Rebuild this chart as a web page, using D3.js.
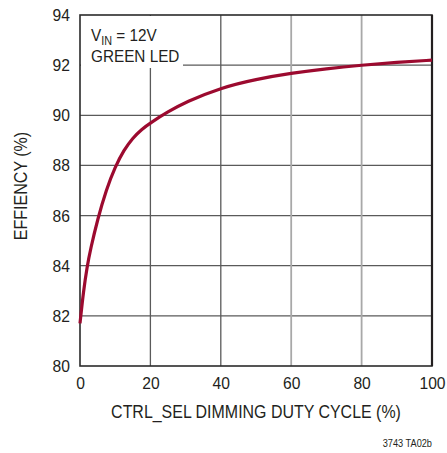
<!DOCTYPE html>
<html>
<head>
<meta charset="utf-8">
<script src="https://cdn.jsdelivr.net/npm/d3@7"></script>
<style>
  html, body { margin: 0; padding: 0; background: #fff; }
  svg text { font-family: "Liberation Sans Narrow", "Arial Narrow", "Liberation Sans", sans-serif; fill: #231f20; }
</style>
</head>
<body>
<svg id="chart" width="447" height="453"></svg>
<script>
// Efficiency vs. CTRL_SEL dimming duty cycle
const dutyCycle  = [0, 1, 2, 3, 5, 7.5, 10, 12.5, 15, 17.5, 20, 25, 30, 40, 50, 60, 70, 80, 90, 100];
const efficiency = [81.7, 83.0, 83.95, 84.67, 85.85, 87.05, 87.95, 88.62, 89.1, 89.44, 89.7, 90.14, 90.53, 91.1, 91.44, 91.68, 91.86, 92.0, 92.11, 92.2];
const xTicks = [0, 20, 40, 60, 80, 100];
const yTicks = [80, 82, 84, 86, 88, 90, 92, 94];
const lightGridX = [60, 80];

const svg = d3.select("#chart");
const plotL = 80, plotR = 432, plotT = 15, plotB = 366;

const x = d3.scaleLinear().domain([0, 100]).range([plotL, plotR]);
const y = d3.scaleLinear().domain([80, 94]).range([plotB, plotT]);

// squeeze a text horizontally to imitate a condensed face
function condense(sel, k) {
  sel.each(function () {
    const w = this.getComputedTextLength();
    d3.select(this).attr("textLength", w * k).attr("lengthAdjust", "spacingAndGlyphs");
  });
}

// grid
const grid = svg.append("g");
grid.selectAll("line.h").data(yTicks.slice(1, -1)).join("line")
  .attr("x1", plotL).attr("x2", plotR)
  .attr("y1", d => y(d)).attr("y2", d => y(d))
  .attr("stroke", "#5a5a5a").attr("stroke-width", 1.3);
grid.selectAll("line.v").data(xTicks.slice(1, -1)).join("line")
  .attr("y1", plotT).attr("y2", plotB)
  .attr("x1", d => x(d)).attr("x2", d => x(d))
  .attr("stroke", d => lightGridX.includes(d) ? "#a8a8a8" : "#5a5a5a")
  .attr("stroke-width", d => lightGridX.includes(d) ? 1.8 : 1.3);

// legend backdrop
svg.append("rect").attr("x", plotL + 1).attr("y", plotT + 1)
  .attr("width", 102).attr("height", 52).attr("fill", "#fff");

// frame
svg.append("rect").attr("x", plotL).attr("y", plotT)
  .attr("width", plotR - plotL).attr("height", plotB - plotT)
  .attr("fill", "none").attr("stroke", "#2b2b2b").attr("stroke-width", 1.6);
svg.append("line").attr("x1", plotR).attr("x2", plotR).attr("y1", plotT).attr("y2", plotB)
  .attr("stroke", "#231f20").attr("stroke-width", 2.2);

// curve
const line = d3.line().x((d, i) => x(dutyCycle[i])).y(d => y(d)).curve(d3.curveBasis);
svg.append("path").datum(efficiency)
  .attr("d", line).attr("fill", "none")
  .attr("stroke", "#9c0a2f").attr("stroke-width", 3.2)
  .attr("stroke-linecap", "butt");

// axes
const xAxis = d3.axisBottom(x).tickValues(xTicks).tickSize(0).tickPadding(11).tickFormat(d3.format("d"));
const gx = svg.append("g").attr("transform", `translate(0,${plotB})`).call(xAxis);
gx.select(".domain").remove();
gx.selectAll("text").attr("font-size", 17).attr("dy", "0.71em").call(condense, 0.92);

const yAxis = d3.axisLeft(y).tickValues(yTicks).tickSize(0).tickPadding(10).tickFormat(d3.format("d"));
const gy = svg.append("g").attr("transform", `translate(${plotL},0)`).call(yAxis);
gy.select(".domain").remove();
gy.selectAll("text").attr("font-size", 17).call(condense, 0.92);

// titles
svg.append("text").attr("x", (plotL + plotR) / 2).attr("y", 418)
  .attr("text-anchor", "middle").attr("font-size", 18)
  .text("CTRL_SEL DIMMING DUTY CYCLE (%)").call(condense, 0.886);
svg.append("text").attr("transform", "translate(27,186) rotate(-90)")
  .attr("text-anchor", "middle").attr("font-size", 18)
  .text("EFFIENCY (%)").call(condense, 0.89);

// legend text
const t1 = svg.append("text").attr("x", 91).attr("y", 41).attr("font-size", 17);
t1.append("tspan").text("V");
t1.append("tspan").attr("font-size", 12).attr("dy", 4).text("IN");
t1.append("tspan").attr("dy", -4).text(" = 12V");
t1.call(condense, 0.9);
svg.append("text").attr("x", 91).attr("y", 62).attr("font-size", 17)
  .text("GREEN LED").call(condense, 0.9);

// part tag
svg.append("text").attr("x", plotR).attr("y", 447)
  .attr("text-anchor", "end").attr("font-size", 10)
  .text("3743 TA02b").call(condense, 0.92);
</script>
</body>
</html>
